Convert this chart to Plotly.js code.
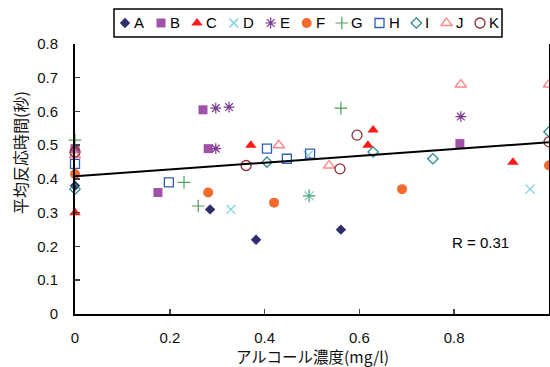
<!DOCTYPE html>
<html>
<head>
<meta charset="utf-8">
<script src="https://cdn.plot.ly/plotly-3.0.1.min.js"></script>
<style>
html,body{margin:0;padding:0;background:#fff;}
#chart{width:550px;height:367px;}
</style>
</head>
<body>
<div id="chart"></div>
<script>
// ---- data ----
const names = ['A','B','C','D','E','F','G','H','I','J','K'];
const A_x = [0, 0.285, 0.382, 0.561];
const A_y = [0.38, 0.31, 0.22, 0.25];
const B_x = [0, 0.175, 0.27, 0.281, 0.812];
const B_y = [0.49, 0.36, 0.605, 0.49, 0.505];
const C_x = [0, 0.371, 0.618, 0.629, 0.924];
const C_y = [0.30, 0.50, 0.50, 0.545, 0.45];
const D_x = [0.329, 0.494, 0.492, 0.96];
const D_y = [0.31, 0.35, 0.47, 0.37];
const E_x = [0.297, 0.297, 0.325, 0.814];
const E_y = [0.61, 0.49, 0.613, 0.585];
const F_x = [0, 0.281, 0.42, 0.69, 1.0];
const F_y = [0.415, 0.36, 0.33, 0.37, 0.44];
const G_x = [0, 0.23, 0.26, 0.494, 0.561];
const G_y = [0.515, 0.39, 0.32, 0.35, 0.61];
const H_x = [0, 0.198, 0.405, 0.447, 0.496];
const H_y = [0.445, 0.39, 0.49, 0.46, 0.475];
const I_x = [0, 0.405, 0.629, 0.755, 1.0];
const I_y = [0.37, 0.45, 0.48, 0.46, 0.54];
const J_x = [0, 0.43, 0.536, 0.814, 1.0];
const J_y = [0.47, 0.50, 0.44, 0.68, 0.68];
const K_x = [0, 0.361, 0.559, 0.595, 1.0];
const K_y = [0.48, 0.44, 0.43, 0.53, 0.51];
const xTickVals = [0, 0.2, 0.4, 0.6, 0.8, 1];
const yTickVals = [0, 0.1, 0.2, 0.3, 0.4, 0.5, 0.6, 0.7, 0.8];
const rLabel = 'R = 0.31';
const xTitle = 'アルコール濃度(mg/l)';
const yTitle = '平均反応時間(秒)';

// ---- styles ----
const xs = [A_x,B_x,C_x,D_x,E_x,F_x,G_x,H_x,I_x,J_x,K_x];
const ys = [A_y,B_y,C_y,D_y,E_y,F_y,G_y,H_y,I_y,J_y,K_y];
const symbols = ['diamond','square','triangle-up','x-thin-open','asterisk-open','circle','cross-thin-open','square-open','diamond-open','triangle-up-open','circle-open'];
const colors = ['#2E2E6A','#A152A8','#FF1A1A','#6FD0DE','#7A3A8E','#F26B2C','#4E9E5C','#2F5FB3','#2E8B8B','#FF8585','#8A2E34'];
const sizes = [8, 9, 10, 9, 9, 10, 9, 9, 8, 10, 10];
const lw = [0, 0, 0, 1.2, 1.2, 0, 1.2, 1.3, 1.3, 1.3, 1.3];

const LAT = '"Liberation Sans", Arial, sans-serif';
const JP = '"Noto Sans CJK JP", sans-serif';

const traces = [];
names.forEach((n, i) => {
  traces.push({
    type: 'scatter', mode: 'markers', name: n, x: xs[i], y: ys[i],
    cliponaxis: false, showlegend: false,
    marker: {symbol: symbols[i], color: colors[i], size: sizes[i],
             line: {color: colors[i], width: lw[i]}}
  });
});

// linear regression over all points
let allX = [], allY = [];
xs.forEach((a, i) => { allX = allX.concat(a); allY = allY.concat(ys[i]); });
const nPts = allX.length;
const mx = allX.reduce((s,v)=>s+v,0)/nPts, my = allY.reduce((s,v)=>s+v,0)/nPts;
let sxy = 0, sxx = 0;
for (let k=0;k<nPts;k++){ sxy += (allX[k]-mx)*(allY[k]-my); sxx += (allX[k]-mx)**2; }
const slope = sxy/sxx, icpt = my - slope*mx;
traces.push({type:'scatter', mode:'lines', x:[0,1], y:[icpt, icpt+slope],
  line:{color:'#000', width:2}, showlegend:false, hoverinfo:'skip', cliponaxis:false});

// custom legend (in pixel-unit axes x2/y2)
const ctx = document.createElement('canvas').getContext('2d');
ctx.font = '15px ' + LAT;
const legX = [], legTextX = [];
let cur = 125;
names.forEach(n => {
  legX.push(cur);
  legTextX.push(cur + 7);
  cur += 12 + ctx.measureText(n).width + 14;
});
names.forEach((n, i) => {
  traces.push({type:'scatter', mode:'markers', x:[legX[i]], y:[0], xaxis:'x2', yaxis:'y2',
    showlegend:false, hoverinfo:'skip', cliponaxis:false,
    marker:{symbol:symbols[i], color:colors[i], size:sizes[i], line:{color:colors[i], width:lw[i]}}});
});
const legAnn = names.map((n, i) => ({xref:'x2', yref:'y2', x:legTextX[i], y:0, text:n,
  showarrow:false, xanchor:'left', yanchor:'middle', font:{family:LAT, size:15, color:'#000'}}));

const layout = {
  width: 550, height: 367,
  margin: {l:75, r:1, t:5, b:53},
  paper_bgcolor:'#fff', plot_bgcolor:'#fff',
  showlegend: false,
  font: {family: LAT, size: 15, color: '#000'},
  xaxis: {range:[0,1], tickvals:xTickVals, ticks:'inside', ticklen:5, tickwidth:1.5, tickcolor:'#444',
    showline:true, linecolor:'#000', linewidth:2, showgrid:false, zeroline:false,
    ticklabelstandoff: 9, tickfont:{family:LAT, size:15, color:'#111'}},
  yaxis: {range:[0,0.8], domain:[0, 0.87379], tickvals:yTickVals, ticks:'inside', ticklen:5, tickwidth:1.5, tickcolor:'#444',
    showline:true, mirror:true, linecolor:'#000', linewidth:2, showgrid:false, zeroline:false,
    ticklabelstandoff: 12, tickfont:{family:LAT, size:15, color:'#111'}},
  xaxis2: {domain:[0.08228, 0.90084], range:[114, 502], anchor:'y2', visible:false, fixedrange:true},
  yaxis2: {domain:[0.89644, 0.98706], range:[-1, 1], anchor:'x2', visible:false, fixedrange:true},
  shapes: [{type:'rect', xref:'x2 domain', yref:'y2 domain', x0:0, x1:1, y0:0, y1:1,
    line:{color:'#000', width:1.5}, fillcolor:'rgba(0,0,0,0)'}],
  annotations: legAnn.concat([
    {xref:'x', yref:'y', x:0.855, y:0.213, text:rLabel, showarrow:false,
     font:{family:LAT, size:15, color:'#000'}},
    {xref:'paper', yref:'paper', x:-0.116, y:0.521, text:yTitle, textangle:-90, showarrow:false,
     xanchor:'center', yanchor:'middle', font:{family:JP, size:16, color:'#111'}},
    {xref:'paper', yref:'paper', x:0.5, y:-0.1375, text:xTitle, showarrow:false, borderpad:0,
     xanchor:'center', yanchor:'middle', font:{family:JP, size:15.5, color:'#111'}}
  ])
};

Plotly.newPlot('chart', traces, layout, {displayModeBar:false, staticPlot:true});
</script>
</body>
</html>
